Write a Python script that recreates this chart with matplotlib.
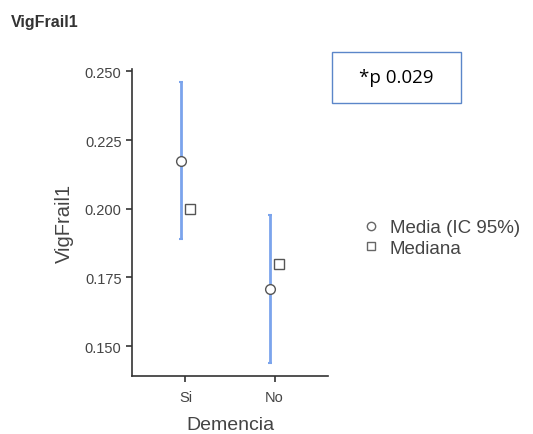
import numpy as np
import matplotlib.pyplot as plt
from matplotlib.lines import Line2D
from matplotlib.patches import Rectangle

# Grupos y estadísticos de VigFrail1
groups = ['Si', 'No']
means = [0.2175, 0.1708]
ci_low = [0.1890, 0.1439]
ci_high = [0.2462, 0.1977]
medians = [0.200, 0.180]
yticks = [0.150, 0.175, 0.200, 0.225, 0.250]
p_text = '*p 0.029'

plt.rcParams['font.family'] = ['Liberation Sans', 'DejaVu Sans']
text_col = '#444444'
axis_col = '#333333'
ci_col = '#7ba4ec'

fig = plt.figure(figsize=(5.33, 4.35), dpi=100)
ax = fig.add_axes([0.2477, 0.1326, 0.3677, 0.7074])

x = np.arange(1, len(groups) + 1)
means = np.array(means)
err = [means - np.array(ci_low), np.array(ci_high) - means]

ax.errorbar(x - 0.05, means, yerr=err, fmt='none', ecolor=ci_col,
            elinewidth=2, capsize=1.5, capthick=1.5, zorder=2)
ax.plot(x - 0.05, means, 'o', ms=7, mfc='white', mec='#555555', mew=1, zorder=3)
ax.plot(x + 0.05, medians, 's', ms=6.5, mfc='white', mec='#555555', mew=1, zorder=3)

ax.set_xlim(0.4, 2.6)
ax.set_ylim(0.139, 0.251)
ax.set_xticks(x)
ax.set_xticklabels(groups)
ax.set_yticks(yticks)
ax.set_yticklabels([f'{t:.3f}' for t in yticks])
ax.tick_params(colors=axis_col, labelcolor=text_col, labelsize=10.5, length=4, width=1.2)
ax.tick_params(axis='x', pad=6)
for s in ['top', 'right']:
    ax.spines[s].set_visible(False)
for s in ['left', 'bottom']:
    ax.spines[s].set_color(axis_col)
    ax.spines[s].set_linewidth(1.2)

ax.set_xlabel('Demencia', fontsize=14, color=text_col, labelpad=8.5)
ax.set_ylabel('VigFrail1', fontsize=14.5, color=text_col, labelpad=8)

fig.text(11 / 533, 1 - 22 / 435, 'VigFrail1', fontsize=11.5, fontweight='bold',
         color='#333333', va='center', ha='left')

# recuadro con el valor p
fig.patches.append(Rectangle((332 / 533, 1 - 104 / 435), 129 / 533, 51 / 435,
                             transform=fig.transFigure, fill=False,
                             edgecolor='#5b86c9', linewidth=1))
fig.text(396 / 533, 1 - 78 / 435, p_text, fontsize=13.5, color='black',
         ha='center', va='center', family=['Open Sans', 'DejaVu Sans'])

handles = [Line2D([], [], ls='none', marker='o', ms=6, mfc='white', mec='#666666'),
           Line2D([], [], ls='none', marker='s', ms=5.5, mfc='white', mec='#666666')]
fig.legend(handles, ['Media (IC 95%)', 'Mediana'], loc='center left',
           bbox_to_anchor=(354 / 533, 1 - 239 / 435), frameon=False,
           fontsize=13.5, labelcolor=text_col, handlelength=1, handletextpad=0.5,
           labelspacing=0.2, borderaxespad=0)

fig.savefig('out.png', dpi=100)
